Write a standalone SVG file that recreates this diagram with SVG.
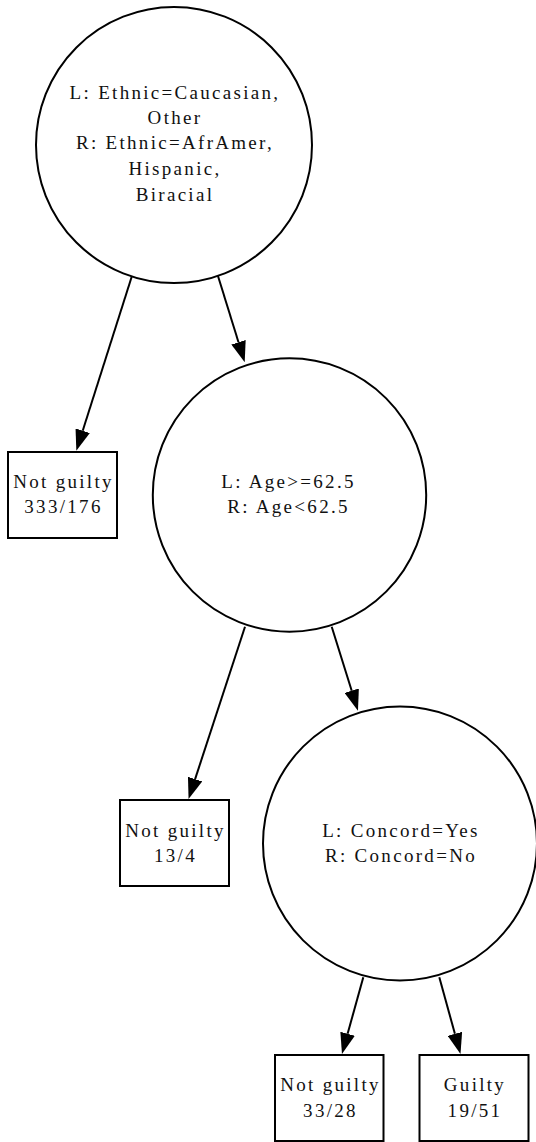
<svg xmlns="http://www.w3.org/2000/svg" width="536" height="1142" viewBox="0 0 536 1142">
<style>
.n{fill:#fff;stroke:#000;stroke-width:2}
.t{font-family:"Liberation Serif","Times New Roman",serif;font-size:19px;letter-spacing:2.3px;text-anchor:middle;fill:#111}
.e{stroke:#000;stroke-width:2;fill:none;marker-end:url(#ah)}
</style>
<defs>
<marker id="ah" viewBox="0 0 21 15" refX="0" refY="7.5" markerWidth="21" markerHeight="15" markerUnits="userSpaceOnUse" orient="auto">
<path d="M0,0 L21,7.5 L0,15 Z" fill="#000"/>
</marker>
</defs>
<rect width="536" height="1142" fill="#fff"/>
<g id="connectors">
<path class="e" d="M131.7,276.7 L82.7,430.7"/>
<path class="e" d="M218,276 L238.5,342.3"/>
<path class="e" d="M245,626.7 L195.1,779.1"/>
<path class="e" d="M331.7,626.7 L351.7,690.7"/>
<path class="e" d="M363.3,977.3 L347.6,1033.8"/>
<path class="e" d="M439.3,977.3 L454.9,1033.8"/>
</g>
<g id="n1">
<circle class="n" cx="174" cy="145" r="138"/>
<text class="t" x="175" y="99">L: Ethnic=Caucasian,</text>
<text class="t" x="175" y="124">Other</text>
<text class="t" x="175" y="149">R: Ethnic=AfrAmer,</text>
<text class="t" x="175" y="175">Hispanic,</text>
<text class="t" x="175" y="201">Biracial</text>
</g>
<g id="leaf1">
<rect class="n" x="8" y="452" width="109" height="86"/>
<text class="t" x="63.5" y="488">Not guilty</text>
<text class="t" x="63.5" y="513">333/176</text>
</g>
<g id="n2">
<circle class="n" cx="289.5" cy="495" r="136.7"/>
<text class="t" x="288.5" y="488">L: Age&gt;=62.5</text>
<text class="t" x="288.5" y="513">R: Age&lt;62.5</text>
</g>
<g id="leaf2">
<rect class="n" x="120" y="800" width="109" height="86"/>
<text class="t" x="175.5" y="837">Not guilty</text>
<text class="t" x="175.5" y="862">13/4</text>
</g>
<g id="n3">
<circle class="n" cx="400" cy="843.5" r="137"/>
<text class="t" x="401" y="837">L: Concord=Yes</text>
<text class="t" x="401" y="862">R: Concord=No</text>
</g>
<g id="leaf3">
<rect class="n" x="275" y="1055" width="108.5" height="86"/>
<text class="t" x="330.5" y="1091">Not guilty</text>
<text class="t" x="330.5" y="1117">33/28</text>
</g>
<g id="leaf4">
<rect class="n" x="419.5" y="1055" width="109" height="86"/>
<text class="t" x="475" y="1091">Guilty</text>
<text class="t" x="475" y="1117">19/51</text>
</g>
</svg>
